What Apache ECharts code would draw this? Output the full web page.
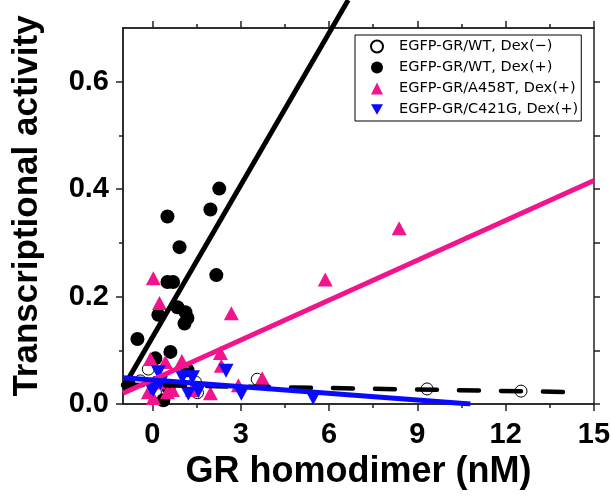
<!DOCTYPE html>
<html>
<head>
<meta charset="utf-8">
<script src="https://cdn.jsdelivr.net/npm/echarts@6/dist/echarts.min.js"></script>
<style>
html,body{margin:0;padding:0;background:#fff;}
#chart{width:611px;height:502px;}
</style>
</head>
<body>
<div id="chart"></div>
<script>
// ---- data ----
const seriesNames = ['EGFP-GR/WT, Dex(\u2212)', 'EGFP-GR/WT, Dex(+)', 'EGFP-GR/A458T, Dex(+)', 'EGFP-GR/C421G, Dex(+)'];
const wtDexMinus = [[-0.41,0.043],[-0.14,0.065],[0.1,0.022],[1.46,0.041],[1.53,0.021],[3.56,0.046],[9.33,0.028],[12.52,0.024]];
const wtDexPlus = [[2.27,0.401],[1.97,0.362],[0.51,0.349],[0.92,0.292],[2.17,0.240],[0.51,0.227],[0.70,0.227],[0.20,0.166],[0.85,0.180],[1.12,0.171],[1.19,0.160],[1.09,0.150],[-0.51,0.121],[0.61,0.097],[0.10,0.085],[1.19,0.063],[0.37,0.007],[-0.80,0.035],[0.55,0.030]];
const a458tDexPlus = [[8.38,0.327],[5.87,0.232],[2.68,0.169],[0.03,0.234],[0.24,0.188],[2.31,0.095],[2.34,0.071],[-0.07,0.084],[0.44,0.078],[1.00,0.080],[2.92,0.035],[3.73,0.048],[1.97,0.020],[-0.14,0.022],[0.03,0.011],[0.51,0.022],[0.68,0.026],[1.36,0.026],[0.20,0.040]];
const c421gDexPlus = [[5.46,0.011],[2.50,0.062],[0.20,0.059],[1.02,0.050],[1.36,0.050],[0.03,0.026],[1.22,0.019],[1.56,0.024],[3.02,0.019],[0.27,0.039],[-0.05,0.030]];
// fitted regression lines (end points)
const fitWtDexMinus = [[-1,0.036],[14.5,0.022]];
const fitWtDexPlus = [[-1,0.030],[6.65,0.752]];
const fitA458T = [[-1,0.020],[15,0.416]];
const fitC421G = [[-1,0.049],[10.8,0]];
// axes
const xRange = [-1, 15];
const yRange = [0, 0.7];
const xMajorTicks = [0, 3, 6, 9, 12, 15];
const xMinorTicks = [1.5, 4.5, 7.5, 10.5, 13.5];
const yMajorTicks = [0, 0.2, 0.4, 0.6];
const yMinorTicks = [0.1, 0.3, 0.5];
const xTitle = 'GR homodimer (nM)';
const yTitle = 'Transcriptional activity';

// ---- styles ----
const AX = '#222';
const PINK = '#F2148C';
const BLUE = '#0A0AFF';
const tickFont = "'Liberation Sans',Arial,sans-serif";
const titleFont = "'Liberation Sans',Arial,sans-serif";
const legendFont = "'DejaVu Sans',sans-serif";

function xAx(pos, ticks, len, labels) {
  return {
    type: 'value', position: pos, min: xRange[0], max: xRange[1],
    axisLine: {show: true, onZero: false, lineStyle: {color: AX, width: 1.5}},
    splitLine: {show: false},
    axisTick: {show: true, customValues: ticks, length: len, lineStyle: {color: AX, width: 1.5}},
    axisLabel: labels ? {show: true, customValues: xMajorTicks, margin: 16, color: '#000',
      fontSize: 29, fontWeight: 'bold', fontFamily: tickFont} : {show: false}
  };
}
function yAx(pos, ticks, len, labels) {
  return {
    type: 'value', position: pos, min: yRange[0], max: yRange[1],
    axisLine: {show: true, onZero: false, lineStyle: {color: AX, width: 1.5}},
    splitLine: {show: false},
    axisTick: {show: true, customValues: ticks, length: len, lineStyle: {color: AX, width: 1.5}},
    axisLabel: labels ? {show: true, customValues: yMajorTicks, margin: 14, color: '#000',
      fontSize: 29, fontWeight: 'bold', fontFamily: tickFont,
      formatter: v => v.toFixed(1)} : {show: false}
  };
}

const xAxes = [
  Object.assign(xAx('bottom', xMajorTicks, 7, true), {
    name: xTitle, nameLocation: 'middle', nameGap: 50,
    nameTextStyle: {fontSize: 36, fontWeight: 'bold', color: '#000', fontFamily: titleFont}
  }),
  xAx('bottom', xMinorTicks, 4, false),
  xAx('top', xMajorTicks, 7, false),
  xAx('top', xMinorTicks, 4, false)
];
const yAxes = [
  Object.assign(yAx('left', yMajorTicks, 7, true), {
    name: yTitle, nameLocation: 'middle', nameGap: 78, nameRotate: 90,
    nameTextStyle: {fontSize: 35, fontWeight: 'bold', color: '#000', fontFamily: titleFont,
      padding: [0, 0, 0, 20]}
  }),
  yAx('left', yMinorTicks, 4, false),
  yAx('right', yMajorTicks.concat(yMinorTicks), 6, false)
];

const invTri = 'path://M0,0L20,0L10,17.32Z';

const chart = echarts.init(document.getElementById('chart'), null, {renderer: 'canvas'});
chart.setOption({
  animation: false,
  backgroundColor: '#fff',
  grid: {left: 123, right: 17, top: 28, bottom: 98, containLabel: false, outerBoundsMode: 'none'},
  xAxis: xAxes,
  yAxis: yAxes,
  legend: {
    orient: 'vertical', left: 355, top: 35,
    backgroundColor: '#fff', borderColor: '#000', borderWidth: 1,
    padding: [4, 3, 4, 15], itemGap: 6, itemWidth: 12, itemHeight: 12,
    textStyle: {fontSize: 14.5, lineHeight: 12, color: '#000', fontFamily: legendFont, padding: [0, 0, 0, 11]},
    data: seriesNames
  },
  series: [
    {name: seriesNames[0], type: 'scatter', data: wtDexMinus, symbol: 'circle', symbolSize: 12,
     itemStyle: {color: '#fff', borderColor: '#000', borderWidth: 1, opacity: 1}, z: 2},
    {name: seriesNames[1], type: 'scatter', data: wtDexPlus, symbol: 'circle', symbolSize: 14,
     itemStyle: {color: '#000', opacity: 1}, z: 2},
    {name: seriesNames[2], type: 'scatter', data: a458tDexPlus, symbol: 'triangle', symbolSize: [15, 14],
     itemStyle: {color: PINK, opacity: 1}, z: 3},
    {name: seriesNames[3], type: 'scatter', data: c421gDexPlus, symbol: invTri, symbolSize: [15, 14],
     itemStyle: {color: BLUE, opacity: 1}, z: 4},
    {type: 'line', data: fitWtDexMinus, symbol: 'none', silent: true, z: 5,
     lineStyle: {color: '#000', width: 4.5, type: [20, 22], cap: 'round'}},
    {type: 'line', data: fitWtDexPlus, symbol: 'none', silent: true, clip: false, z: 5,
     lineStyle: {color: '#000', width: 5}},
    {type: 'line', data: fitA458T, symbol: 'none', silent: true, z: 5,
     lineStyle: {color: PINK, width: 5}},
    {type: 'line', data: fitC421G, symbol: 'none', silent: true, z: 5,
     lineStyle: {color: BLUE, width: 5}}
  ]
});
</script>
</body>
</html>
